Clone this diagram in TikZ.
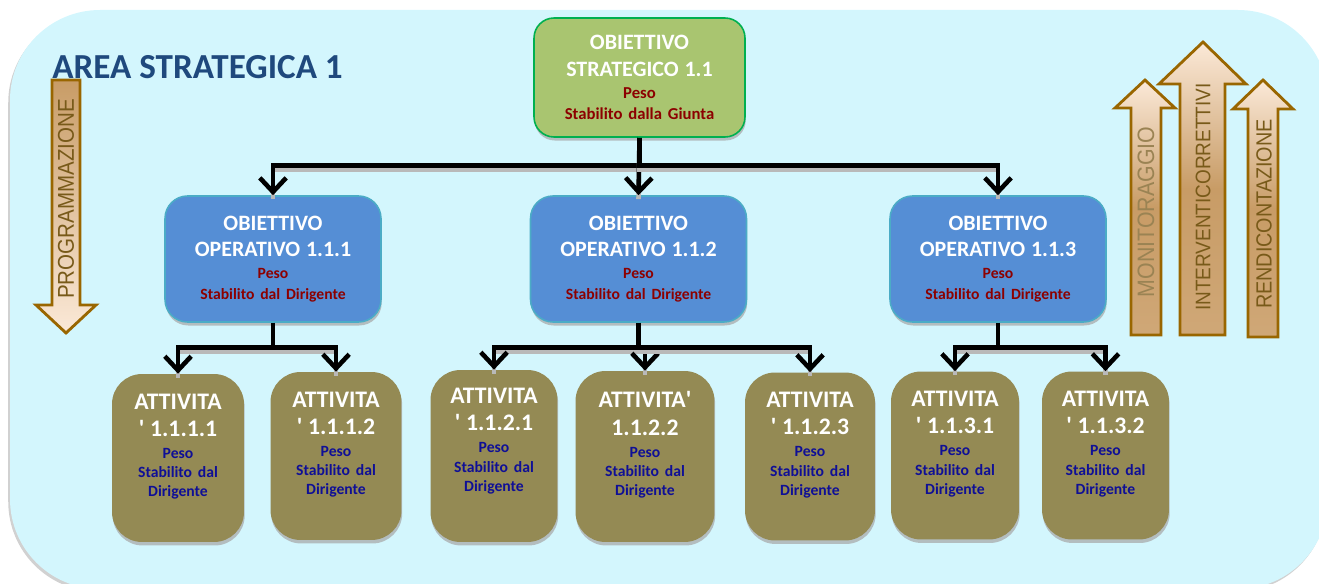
\documentclass[tikz,border=0pt]{standalone}
\usepackage{fontspec}
\setmainfont{Carlito}
\newfontfamily\arrowfont[FakeStretch=0.9]{Liberation Sans}
\usetikzlibrary{arrows.meta,shadows}
\definecolor{areabg}{RGB}{211,246,253}
\definecolor{areatitle}{RGB}{31,73,125}
\definecolor{strfill}{RGB}{169,197,112}
\definecolor{strline}{RGB}{0,176,80}
\definecolor{opfill}{RGB}{85,142,213}
\definecolor{opline}{RGB}{75,172,198}
\definecolor{attfill}{RGB}{148,138,84}
\definecolor{pesored}{RGB}{140,0,0}
\definecolor{pesoblue}{RGB}{15,15,150}
\definecolor{arrowbrown}{RGB}{153,102,0}
\definecolor{arrowtan}{RGB}{200,156,102}
\definecolor{arrowcream}{RGB}{251,233,216}
\definecolor{arrowtext}{RGB}{120,90,25}
\newcommand{\boxhead}{\fontsize{12.5}{15}\selectfont}
\newcommand{\atthead}{\fontsize{13.5}{15.5}\selectfont}
\newcommand{\boxpeso}{\fontsize{8.9}{11}\selectfont}

\begin{document}
\begin{tikzpicture}[x=0.02cm, y=-0.02cm, font=\bfseries]
    % Define styles
    \tikzstyle{shadowed} = [drop shadow={shadow xshift=0.4pt, shadow yshift=-2pt, fill=gray!70, opacity=0.7}]
    \tikzstyle{strategico} = [rectangle, draw=strline, line width=0.9pt, fill=strfill, text=white, rounded corners=0.4cm, minimum width=4.22cm, minimum height=2.38cm, text width=4cm, align=center, inner sep=1pt, shadowed]
    \tikzstyle{operativo} = [rectangle, draw=opline, line width=0.9pt, fill=opfill, text=white, rounded corners=0.45cm, minimum width=4.32cm, minimum height=2.52cm, text width=4cm, align=center, inner sep=1pt, shadowed]
    \tikzstyle{attivita} = [rectangle, fill=attfill, text=white, rounded corners=0.6cm, minimum width=2.6cm, minimum height=3.36cm, text width=2.45cm, align=center, inner sep=1pt, shadowed]
    \tikzstyle{conn} = [line width=2.6pt, -{Straight Barb[length=8pt,width=15pt]}, preaction={draw=gray!55, line width=2.6pt, -, transform canvas={yshift=-2.2pt}}]
    \tikzstyle{blockarrow} = [draw=arrowbrown, line width=1.6pt]
    \tikzstyle{arrowlabel} = [rotate=90, text=arrowtext, inner sep=0pt]

    \useasboundingbox (0,0) rectangle (1319,584);
    \clip (0,0) rectangle (1319,584);

    % Background
    \fill [areabg, drop shadow={shadow xshift=-1pt, shadow yshift=-1.5pt, fill=gray!60, opacity=0.6}, rounded corners=1.8cm] (10,10) rectangle (1328,589);
    \node [anchor=base west, text=areatitle, font=\bfseries\fontsize{20}{20}\selectfont, inner sep=0pt] (area) at (52,79) {AREA STRATEGICA 1};

    % Nodes
    \node (str) [strategico] at (639.5,77.5) {{\boxhead OBIETTIVO\\STRATEGICO 1.1\par}\vspace{1.5pt}\color{pesored}\fontsize{9.5}{11.3}\selectfont Peso\\Stabilito dalla Giunta};
    \node (op1) [operativo] at (273,259) {{\boxhead OBIETTIVO\\OPERATIVO 1.1.1\par}\vspace{1.5pt}\color{pesored}\boxpeso Peso\\Stabilito dal Dirigente};
    \node (op2) [operativo] at (638.5,259) {{\boxhead OBIETTIVO\\OPERATIVO 1.1.2\par}\vspace{1.5pt}\color{pesored}\boxpeso Peso\\Stabilito dal Dirigente};
    \node (op3) [operativo] at (998,259) {{\boxhead OBIETTIVO\\OPERATIVO 1.1.3\par}\vspace{1.5pt}\color{pesored}\boxpeso Peso\\Stabilito dal Dirigente};

    \node (a1111) [attivita, minimum width=2.64cm] at (178,458) {{\atthead ATTIVITA\\\textquotesingle{} 1.1.1.1\par}\vspace{1.5pt}\color{pesoblue}\boxpeso Peso\\Stabilito dal\\Dirigente\par\vspace*{13pt}};
    \node (a1112) [attivita, minimum width=2.62cm] at (336,456) {{\atthead ATTIVITA\\\textquotesingle{} 1.1.1.2\par}\vspace{1.5pt}\color{pesoblue}\boxpeso Peso\\Stabilito dal\\Dirigente\par\vspace*{13pt}};
    \node (a1121) [attivita, minimum width=2.54cm, minimum height=3.44cm] at (494,456) {{\atthead ATTIVITA\\\textquotesingle{} 1.1.2.1\par}\vspace{1.5pt}\color{pesoblue}\boxpeso Peso\\Stabilito dal\\Dirigente\par\vspace*{17pt}};
    \node (a1122) [attivita, minimum width=2.78cm, minimum height=3.42cm] at (645,456.5) {{\atthead ATTIVITA\textquotesingle\\1.1.2.2\par}\vspace{1.5pt}\color{pesoblue}\boxpeso Peso\\Stabilito dal\\Dirigente\par\vspace*{13pt}};
    \node (a1123) [attivita] at (810,456.5) {{\atthead ATTIVITA\\\textquotesingle{} 1.1.2.3\par}\vspace{1.5pt}\color{pesoblue}\boxpeso Peso\\Stabilito dal\\Dirigente\par\vspace*{13pt}};
    \node (a1131) [attivita, minimum width=2.56cm] at (955,455.5) {{\atthead ATTIVITA\\\textquotesingle{} 1.1.3.1\par}\vspace{1.5pt}\color{pesoblue}\boxpeso Peso\\Stabilito dal\\Dirigente\par\vspace*{13pt}};
    \node (a1132) [attivita, minimum width=2.54cm] at (1105.5,455.5) {{\atthead ATTIVITA\\\textquotesingle{} 1.1.3.2\par}\vspace{1.5pt}\color{pesoblue}\boxpeso Peso\\Stabilito dal\\Dirigente\par\vspace*{13pt}};

    % Arrows
    \draw [conn] (str.south) -- ++(0,28) -| (op1.north);
    \draw [conn] (str.south) -- (op2.north);
    \draw [conn] (str.south) -- ++(0,28) -| (op3.north);
    \draw [conn] (op1.south) -- ++(0,25) -| (a1111.north);
    \draw [conn] (op1.south) -- ++(0,25) -| (a1112.north);
    \draw [conn] (op2.south) -- ++(0,25) -| (a1121.north);
    \draw [conn] (op2.south) -- ++(0,25) -| (a1122.north);
    \draw [conn] (op2.south) -- ++(0,25) -| (a1123.north);
    \draw [conn] (op3.south) -- ++(0,25) -| (a1131.north);
    \draw [conn] (op3.south) -- ++(0,25) -| (a1132.north);

    % Block arrows
    \draw [blockarrow, top color=arrowtan, bottom color=arrowcream] (52,80) -- (80,80) -- (80,305) -- (96,305) -- (66,333) -- (36,305) -- (52,305) -- cycle;
    \node (prog) [arrowlabel, font=\arrowfont\fontsize{13}{13}\selectfont] at (66,199) {PROGRAMMAZIONE};

    \draw [blockarrow, top color=arrowcream, bottom color=arrowtan!85!arrowcream, middle color=arrowtan] (1131,335) -- (1161,335) -- (1161,108) -- (1175,108) -- (1145,80) -- (1115,108) -- (1131,108) -- cycle;
    \node (mon) [arrowlabel, text=arrowtext!75!white, font=\arrowfont\fontsize{13.5}{13.5}\selectfont] at (1146,212) {MONITORAGGIO};

    \draw [blockarrow, top color=arrowcream, bottom color=arrowtan!85!arrowcream, middle color=arrowtan] (1180,335) -- (1225,335) -- (1225,84) -- (1246,84) -- (1203,42) -- (1159,84) -- (1180,84) -- cycle;
    \node (int) [arrowlabel, font=\arrowfont\fontsize{12}{12}\selectfont] at (1203,197) {INTERVENTICORRETTIVI};

    \draw [blockarrow, top color=arrowcream, bottom color=arrowtan!85!arrowcream, middle color=arrowtan] (1248,337) -- (1278,337) -- (1278,109) -- (1293,109) -- (1263,80) -- (1233,109) -- (1248,109) -- cycle;
    \node (ren) [arrowlabel, font=\arrowfont\fontsize{12.5}{12.5}\selectfont] at (1264,214) {RENDICONTAZIONE};
\end{tikzpicture}
\end{document}
